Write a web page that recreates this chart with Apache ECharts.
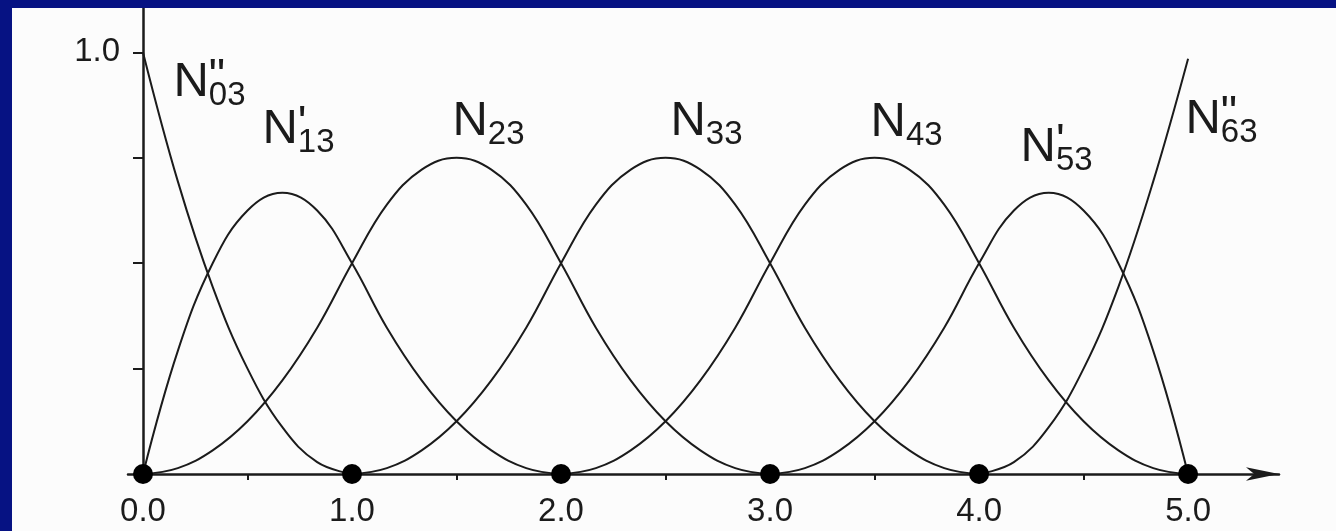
<!DOCTYPE html>
<html>
<head>
<meta charset="utf-8">
<script src="https://cdn.jsdelivr.net/npm/echarts@6/dist/echarts.min.js"></script>
<style>
  html, body { margin: 0; padding: 0; width: 1336px; height: 531px; overflow: hidden; background: #061283; }
  #chart { position: absolute; left: 12px; top: 8px; width: 1324px; height: 523px; background: #fcfcfc; }
</style>
</head>
<body>
<div id="chart"></div>
<script>
// Quadratic B-spline basis functions N_i3 over the knots 0,0,0,1,2,3,4,5,5,5
const knots = [0, 1, 2, 3, 4, 5];
const xTickLabels = ['0.0', '1.0', '2.0', '3.0', '4.0', '5.0'];
const xMinorTicks = [0.5, 1.5, 2.5, 3.5, 4.5];
const yTicks = [0.25, 0.5, 0.75, 1.0];
const yTickLabels = [1.0];

// each curve is sampled every 1/6 from its first knot
const samplesPerUnit = 6;
const curveStart = [0, 0, 0, 1, 2, 3, 4];
const n03 = [1, 0.694, 0.444, 0.25, 0.111, 0.028, 0];
const n13 = [0, 0.292, 0.5, 0.625, 0.667, 0.625, 0.5,
             0.347, 0.222, 0.125, 0.056, 0.014, 0];
const n23 = [0, 0.014, 0.056, 0.125, 0.222, 0.347, 0.5,
             0.639, 0.722, 0.75, 0.722, 0.639, 0.5,
             0.347, 0.222, 0.125, 0.056, 0.014, 0];
const n33 = [0, 0.014, 0.056, 0.125, 0.222, 0.347, 0.5,
             0.639, 0.722, 0.75, 0.722, 0.639, 0.5,
             0.347, 0.222, 0.125, 0.056, 0.014, 0];
const n43 = [0, 0.014, 0.056, 0.125, 0.222, 0.347, 0.5,
             0.639, 0.722, 0.75, 0.722, 0.639, 0.5,
             0.347, 0.222, 0.125, 0.056, 0.014, 0];
const n53 = [0, 0.014, 0.056, 0.125, 0.222, 0.347, 0.5,
             0.625, 0.667, 0.625, 0.5, 0.292, 0];
const n63 = [0, 0.028, 0.111, 0.25, 0.444, 0.694, 0.985];
const curves = [n03, n13, n23, n33, n43, n53, n63];

// curve names: subscript, prime marks, and where each name sits (x, y in axis units)
const nameSubs = ['03', '13', '23', '33', '43', '53', '63'];
const namePrimes = ['"', "'", '', '', '', "'", '"'];
const nameX = [0.148, 0.574, 1.483, 2.526, 3.483, 4.201, 4.990];
const nameY = [0.975, 0.863, 0.882, 0.882, 0.880, 0.821, 0.887];

const ink = '#1b1b1b';
const font = '"Liberation Sans", Arial, sans-serif';

const chart = echarts.init(document.getElementById('chart'), null, { renderer: 'canvas' });

const curveSeries = curves.map(function (ys, i) {
  return {
    type: 'line',
    data: ys.map(function (y, k) { return [curveStart[i] + k / samplesPerUnit, y]; }),
    showSymbol: false,
    smooth: 0.4,
    lineStyle: { color: ink, width: 2 },
    silent: true,
    z: 2
  };
});

const nameMarks = nameSubs.map(function (s, i) {
  const prime = namePrimes[i] ? '{p|' + namePrimes[i] + '}' : '';
  return {
    coord: [nameX[i], nameY[i]],
    label: { formatter: '{n|N}' + prime + '{s|' + s + '}' }
  };
});

chart.setOption({
  backgroundColor: '#fcfcfc',
  animation: false,
  grid: { left: 116, right: 57, top: 0, bottom: 57 },
  xAxis: {
    type: 'value',
    min: -0.0718,
    max: 5.435,
    splitLine: { show: false },
    axisLine: {
      onZero: true,
      symbol: ['none', 'arrow'],
      symbolSize: [10, 33],
      lineStyle: { color: ink, width: 2.5 }
    },
    axisTick: { show: true, customValues: xMinorTicks, length: 6, inside: false, lineStyle: { color: ink, width: 2 } },
    axisLabel: {
      customValues: knots,
      formatter: function (v) { return xTickLabels[knots.indexOf(v)]; },
      margin: 21,
      fontSize: 33,
      fontFamily: font,
      color: ink
    }
  },
  yAxis: {
    type: 'value',
    min: 0,
    max: 1.1053,
    splitLine: { show: false },
    axisLine: { onZero: true, lineStyle: { color: ink, width: 2.5 } },
    axisTick: { show: true, customValues: yTicks, length: 10, inside: false, lineStyle: { color: ink, width: 2 } },
    axisLabel: {
      customValues: yTickLabels,
      formatter: function (v) { return v.toFixed(1); },
      margin: 8,
      fontSize: 33,
      fontFamily: font,
      color: ink
    }
  },
  series: curveSeries.concat([{
    type: 'scatter',
    data: knots.map(function (k) { return [k, 0]; }),
    symbol: 'circle',
    symbolSize: 20,
    itemStyle: { color: '#000000', opacity: 1 },
    silent: true,
    z: 5,
    markPoint: {
      symbol: 'circle',
      symbolSize: 1,
      itemStyle: { color: 'rgba(0,0,0,0)' },
      silent: true,
      label: {
        show: true,
        position: [0, 0],
        align: 'left',
        verticalAlign: 'top',
        color: ink,
        rich: {
          n: { fontSize: 49, fontFamily: font, color: ink, height: 40, lineHeight: 40, verticalAlign: 'top' },
          p: { fontSize: 46, fontFamily: font, color: ink, height: 31, lineHeight: 31, verticalAlign: 'top', width: 0, align: 'left' },
          s: { fontSize: 33, fontFamily: font, color: ink, height: 67, lineHeight: 67, verticalAlign: 'top' }
        }
      },
      data: nameMarks
    }
  }])
});
</script>
</body>
</html>
